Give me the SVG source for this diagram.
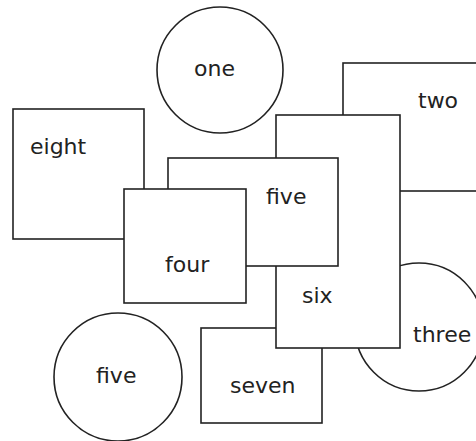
<svg xmlns="http://www.w3.org/2000/svg" width="476" height="441" viewBox="0 0 476 441">
<style>
.s{fill:#fff;stroke:#222;stroke-width:1.6}
.t{font-family:"DejaVu Sans",sans-serif;font-size:22px;fill:#222}
</style>
<rect width="476" height="441" fill="#fff"/>
<g id="eight"><rect class="s" x="13" y="109" width="131" height="130"/><text class="t" x="30" y="154">eight</text></g>
<g id="one"><circle class="s" cx="220" cy="70" r="63"/><text class="t" x="194" y="76">one</text></g>
<g id="two"><rect class="s" x="343" y="63" width="134" height="128"/><text class="t" x="418" y="108">two</text></g>
<g id="three"><circle class="s" cx="419" cy="327" r="64"/><text class="t" x="413" y="342">three</text></g>
<g id="seven"><rect class="s" x="201" y="328" width="121" height="95"/><text class="t" x="230" y="393">seven</text></g>
<g id="six"><rect class="s" x="276" y="115" width="124" height="233"/><text class="t" x="302" y="303">six</text></g>
<g id="five-rect"><rect class="s" x="168" y="158" width="170" height="108"/><text class="t" x="266" y="204">five</text></g>
<g id="four"><rect class="s" x="124" y="189" width="122" height="114"/><text class="t" x="165" y="272">four</text></g>
<g id="five-circle"><circle class="s" cx="118" cy="377" r="64"/><text class="t" x="96" y="383">five</text></g>
<g id="connectors"/>
</svg>
